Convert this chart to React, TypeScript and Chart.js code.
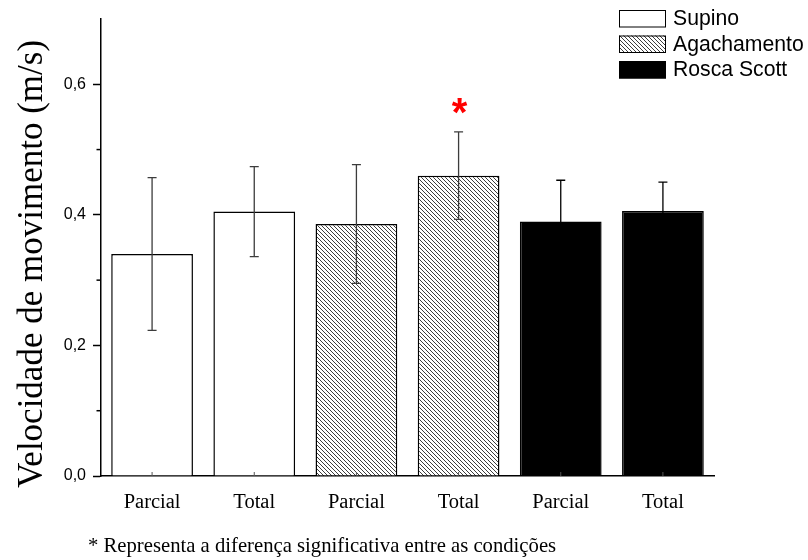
import React, { useEffect, useRef } from 'react';
import { Chart, registerables } from 'chart.js';

Chart.register(...registerables);

// ---- data ----
const categories = ['Parcial', 'Total', 'Parcial', 'Total', 'Parcial', 'Total'];
const seriesNames = ['Supino', 'Agachamento', 'Rosca Scott'];
const supino = [0.340, 0.405, null, null, null, null];
const agachamento = [null, null, 0.386, 0.460, null, null];
const roscaScott = [null, null, null, null, 0.390, 0.406];
const errSupino = [0.117, 0.069, null, null, null, null];
const errAgachamento = [null, null, 0.091, 0.067, null, null];
const errRoscaScott = [null, null, null, null, 0.063, 0.044];
const significant = [false, false, false, true, false, false];
const yMajorTicks = [0, 0.2, 0.4, 0.6];
const yMinorTicks = [0.1, 0.3, 0.5];
const yMin = 0;
const yMax = 0.7;
const yTitle = 'Velocidade de movimento (m/s)';
const footnote = '* Representa a diferença significativa entre as condições';

const SERIF = '"Liberation Serif", "Times New Roman", serif';
const SANS = '"Liberation Sans", Arial, sans-serif';

function makeHatch(): CanvasPattern | string {
  const c = document.createElement('canvas');
  c.width = 4;
  c.height = 4;
  const g = c.getContext('2d');
  if (!g) return '#888';
  g.fillStyle = '#fff';
  g.fillRect(0, 0, 4, 4);
  g.strokeStyle = '#1a1a1a';
  g.lineWidth = 0.85;
  g.beginPath();
  g.moveTo(-1, -1);
  g.lineTo(5, 5);
  g.moveTo(-1, 3);
  g.lineTo(1, 5);
  g.moveTo(3, -1);
  g.lineTo(5, 1);
  g.stroke();
  return g.createPattern(c, 'repeat') || '#888';
}

const isMajor = (v: number) => yMajorTicks.some((t) => Math.abs(t - v) < 1e-6);

export default function App() {
  const ref = useRef<HTMLCanvasElement | null>(null);

  useEffect(() => {
    if (!ref.current) return;
    const hatch = makeHatch();
    const errors = [errSupino, errAgachamento, errRoscaScott];
    const fills: any[] = ['#ffffff', hatch, '#000000'];

    const overlay = {
      id: 'overlay',
      afterDatasetsDraw(chart: any) {
        const ctx = chart.ctx;
        const xs = chart.scales.x;
        const ys = chart.scales.y;
        ctx.save();
        // error bars
        chart.data.datasets.forEach((ds: any, i: number) => {
          const meta = chart.getDatasetMeta(i);
          ds.data.forEach((v: number | null, j: number) => {
            const e = errors[i][j];
            if (v == null || e == null) return;
            const x = meta.data[j].x;
            const yt = ys.getPixelForValue(v + e);
            const yb = ys.getPixelForValue(v - e);
            ctx.strokeStyle = i === 2 ? '#000' : '#3c3c3c';
            ctx.lineWidth = 1.3;
            ctx.beginPath();
            ctx.moveTo(x, yt);
            ctx.lineTo(x, yb);
            ctx.moveTo(x - 4.5, yt);
            ctx.lineTo(x + 4.5, yt);
            ctx.moveTo(x - 4.5, yb);
            ctx.lineTo(x + 4.5, yb);
            ctx.stroke();
            if (significant[j]) {
              ctx.fillStyle = '#ff0000';
              ctx.font = 'bold 40px ' + SANS;
              ctx.textAlign = 'center';
              ctx.textBaseline = 'alphabetic';
              ctx.fillText('*', x + 1, yt - 6);
            }
          });
        });
        // x minor ticks at category centres (inward)
        ctx.strokeStyle = '#555';
        ctx.lineWidth = 1;
        categories.forEach((_, j) => {
          const x = xs.getPixelForValue(j);
          ctx.beginPath();
          ctx.moveTo(x, xs.top);
          ctx.lineTo(x, xs.top - 4);
          ctx.stroke();
        });
        // y minor ticks
        ctx.strokeStyle = '#000';
        ctx.lineWidth = 1.5;
        yMinorTicks.forEach((t) => {
          const y = ys.getPixelForValue(t);
          ctx.beginPath();
          ctx.moveTo(chart.chartArea.left - 4.5, y);
          ctx.lineTo(chart.chartArea.left, y);
          ctx.stroke();
        });
        // y title
        ctx.fillStyle = '#000';
        ctx.font = '35px ' + SERIF;
        ctx.textAlign = 'center';
        ctx.textBaseline = 'alphabetic';
        ctx.translate(42, 264);
        ctx.rotate(-Math.PI / 2);
        ctx.fillText(yTitle, 0, 0);
        ctx.restore();

        ctx.save();
        // legend
        chart.data.datasets.forEach((ds: any, i: number) => {
          const top = 10 + i * 25.5;
          ctx.fillStyle = ds.backgroundColor;
          ctx.fillRect(619, top, 47, 17.5);
          ctx.strokeStyle = '#000';
          ctx.lineWidth = 1;
          ctx.strokeRect(619.5, top + 0.5, 46, 16.5);
          ctx.fillStyle = '#000';
          ctx.font = '21.2px ' + SANS;
          ctx.textAlign = 'left';
          ctx.textBaseline = 'middle';
          ctx.fillText(ds.label, 673, top + 9.5);
        });
        // footnote
        ctx.fillStyle = '#000';
        ctx.font = '20.7px ' + SERIF;
        ctx.textAlign = 'left';
        ctx.textBaseline = 'alphabetic';
        ctx.fillText(footnote, 88, 552);
        ctx.restore();
      },
    };

    const datasets = [supino, agachamento, roscaScott].map((d, i) => ({
      label: seriesNames[i],
      data: d,
      backgroundColor: fills[i],
      borderColor: '#000',
      borderWidth: 1.5,
      grouped: false,
      barPercentage: 0.8,
      categoryPercentage: 1,
    }));

    const chart = new Chart(ref.current, {
      type: 'bar',
      data: { labels: categories, datasets: datasets as any },
      options: {
        animation: false,
        responsive: false,
        maintainAspectRatio: false,
        devicePixelRatio: 1,
        layout: { padding: { top: 19, right: 94, left: 0, bottom: 0 } },
        plugins: { legend: { display: false }, tooltip: { enabled: false } },
        scales: {
          x: {
            grid: { display: false, drawTicks: false },
            border: { display: true, color: '#000', width: 1.5 },
            ticks: {
              color: '#000',
              font: { family: SERIF, size: 20.5 },
              padding: 14,
              maxRotation: 0,
              autoSkip: false,
            },
            afterFit: (s: any) => {
              s.height = 84;
            },
          },
          y: {
            min: yMin,
            max: yMax,
            grid: {
              display: true,
              drawOnChartArea: false,
              drawTicks: true,
              tickLength: 8,
              tickWidth: 1.5,
              tickColor: (c: any) => (c.tick && isMajor(c.tick.value) ? '#000' : 'rgba(0,0,0,0)'),
            },
            border: { display: true, color: '#000', width: 1.5 },
            ticks: {
              stepSize: 0.1,
              color: '#000',
              font: { family: SANS, size: 16 },
              padding: 7,
              callback: (v: any) => (isMajor(Number(v)) ? Number(v).toFixed(1).replace('.', ',') : ''),
            },
            afterFit: (s: any) => {
              s.width = 101;
            },
          },
        },
      },
      plugins: [overlay],
    });
    return () => chart.destroy();
  }, []);

  return (
    <div style={{ position: 'absolute', left: 0, top: 0, width: 808, height: 560, background: '#fff' }}>
      <canvas ref={ref} width={808} height={560} style={{ display: 'block' }} />
    </div>
  );
}
